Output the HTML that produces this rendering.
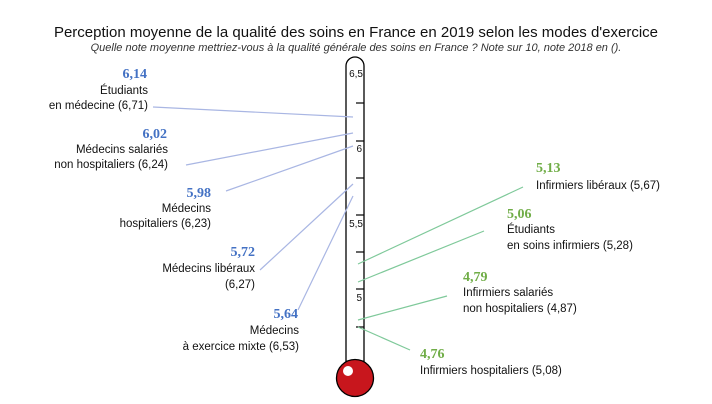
<!DOCTYPE html>
<html><head><meta charset="utf-8"><style>
html,body{margin:0;padding:0;background:#fff;}
svg{display:block;font-family:"Liberation Sans",sans-serif;}
.n{font-family:"Liberation Serif",serif;font-weight:bold;font-size:14px;}
.b{fill:#4472c4}.g{fill:#70ad47}
.t{font-size:11.5px;fill:#111}
</style></head><body>
<svg width="712" height="404" viewBox="0 0 712 404">
<text x="356" y="37" text-anchor="middle" font-size="15" fill="#111">Perception moyenne de la qualité des soins en France en 2019 selon les modes d'exercice</text>
<text x="356" y="51" text-anchor="middle" font-size="11" font-style="italic" fill="#333">Quelle note moyenne mettriez-vous à la qualité générale des soins en France ? Note sur 10, note 2018 en ().</text>
<path d="M346,364 L346,66 A9,9 0 0 1 364,66 L364,364" fill="#fff" stroke="#000" stroke-width="1.3"/>
<g stroke="#000" stroke-width="1.2">
<line x1="356" y1="103" x2="364" y2="103"/><line x1="356" y1="141" x2="364" y2="141"/>
<line x1="356" y1="178" x2="364" y2="178"/><line x1="356" y1="215" x2="364" y2="215"/>
<line x1="356" y1="252" x2="364" y2="252"/><line x1="356" y1="289" x2="364" y2="289"/>
<line x1="356" y1="327" x2="364" y2="327"/>
</g>
<g font-size="10" fill="#111" text-anchor="end">
<text x="363" y="77">6,5</text><text x="362" y="152">6</text>
<text x="363" y="227">5,5</text><text x="362" y="301">5</text>
</g>
<circle cx="355" cy="378" r="18.5" fill="#c8161d" stroke="#000" stroke-width="1.3"/>
<circle cx="348" cy="371" r="5" fill="#fff"/>
<g stroke="#a9b6e3" stroke-width="1.2">
<line x1="153" y1="107" x2="353" y2="117"/>
<line x1="186" y1="165" x2="353" y2="133"/>
<line x1="226" y1="191" x2="353" y2="146"/>
<line x1="260" y1="270" x2="353" y2="184"/>
<line x1="298" y1="310" x2="353" y2="196"/>
</g>
<g stroke="#7fc99a" stroke-width="1.2">
<line x1="358" y1="264" x2="523" y2="187"/>
<line x1="358" y1="282" x2="484" y2="231"/>
<line x1="358" y1="320" x2="447" y2="296"/>
<line x1="358" y1="327" x2="410" y2="350"/>
</g>
<g text-anchor="end">
<text class="n b" x="147" y="78">6,14</text>
<text class="t" x="148" y="94">Étudiants</text>
<text class="t" x="148" y="109">en médecine (6,71)</text>
<text class="n b" x="167" y="138">6,02</text>
<text class="t" x="168" y="153">Médecins salariés</text>
<text class="t" x="168" y="168">non hospitaliers (6,24)</text>
<text class="n b" x="211" y="197">5,98</text>
<text class="t" x="211" y="212">Médecins</text>
<text class="t" x="211" y="227">hospitaliers (6,23)</text>
<text class="n b" x="255" y="256">5,72</text>
<text class="t" x="255" y="272">Médecins libéraux</text>
<text class="t" x="255" y="288">(6,27)</text>
<text class="n b" x="298" y="318">5,64</text>
<text class="t" x="299" y="334">Médecins</text>
<text class="t" x="299" y="350">à exercice mixte (6,53)</text>
</g>
<text class="n g" x="536" y="172">5,13</text>
<text class="t" x="536" y="189">Infirmiers libéraux (5,67)</text>
<text class="n g" x="507" y="218">5,06</text>
<text class="t" x="507" y="233">Étudiants</text>
<text class="t" x="507" y="249">en soins infirmiers (5,28)</text>
<text class="n g" x="463" y="281">4,79</text>
<text class="t" x="463" y="296">Infirmiers salariés</text>
<text class="t" x="463" y="312">non hospitaliers (4,87)</text>
<text class="n g" x="420" y="358">4,76</text>
<text class="t" x="420" y="374">Infirmiers hospitaliers (5,08)</text>
</svg>
</body></html>
